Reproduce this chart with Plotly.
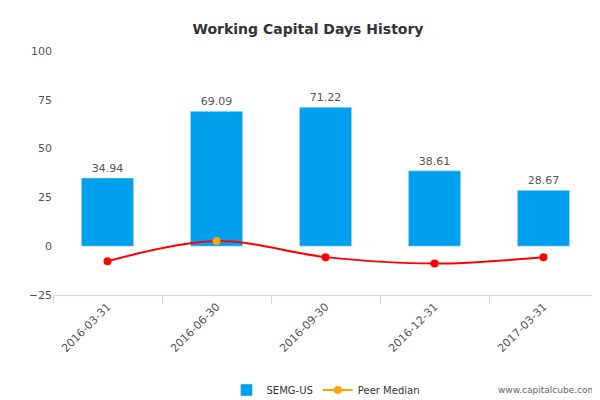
import plotly.graph_objects as go

categories = ["2016-03-31", "2016-06-30", "2016-09-30", "2016-12-31", "2017-03-31"]
semg = [34.94, 69.09, 71.22, 38.61, 28.67]
peer = [-7.7, 2.6, -5.6, -8.9, -5.6]
peer_colors = ["#ff0000", "#ffa500", "#ff0000", "#ff0000", "#ff0000"]
yticks = [-25, 0, 25, 50, 75, 100]

fig = go.Figure()
fig.add_trace(go.Bar(x=categories, y=semg, name="SEMG-US", marker_color="#00a0ee",
                     width=0.48, text=[f"{v:.2f}" for v in semg], textposition="outside",
                     textfont=dict(size=11, color="#555"), cliponaxis=False))
fig.add_trace(go.Scatter(x=categories, y=peer, name="Peer Median", mode="lines+markers",
                         line=dict(color="#ff0000", shape="spline", width=2),
                         marker=dict(color=peer_colors, size=8), showlegend=False))
fig.add_trace(go.Scatter(x=[None], y=[None], name="Peer Median", mode="lines+markers",
                         line=dict(color="#ffa500", width=2), marker=dict(color="#ffa500", size=8)))

fig.update_layout(
    width=600, height=400, plot_bgcolor="white", paper_bgcolor="white",
    margin=dict(l=45, r=10, t=43, b=113, autoexpand=False),
    title=dict(text="<b>Working Capital Days History</b>", x=0.5, y=0.96, xanchor="center",
               font=dict(size=14, color="#333", family="DejaVu Sans")),
    font=dict(family="DejaVu Sans", size=11, color="#555"),
    yaxis=dict(range=[-25, 100], tickvals=yticks, showgrid=False, zeroline=False,
               ticks="", automargin=False, tickfont=dict(size=11, color="#555")),
    xaxis=dict(type="category", showline=True, linecolor="#ccd6eb", ticks="outside", tickcolor="#ccd6eb",
               ticklen=8, tickangle=-45, tickson="boundaries", automargin=False,
               tickfont=dict(size=11, color="#555")),
    legend=dict(orientation="h", x=0.5, xanchor="center", y=-0.33, yanchor="top",
                font=dict(size=10, color="#333")),
)
fig.add_annotation(text="www.capitalcube.com", xref="paper", yref="paper", x=1, y=-0.42,
                   xanchor="right", showarrow=False, font=dict(size=9, color="#666"))
fig.write_html("out.html")
